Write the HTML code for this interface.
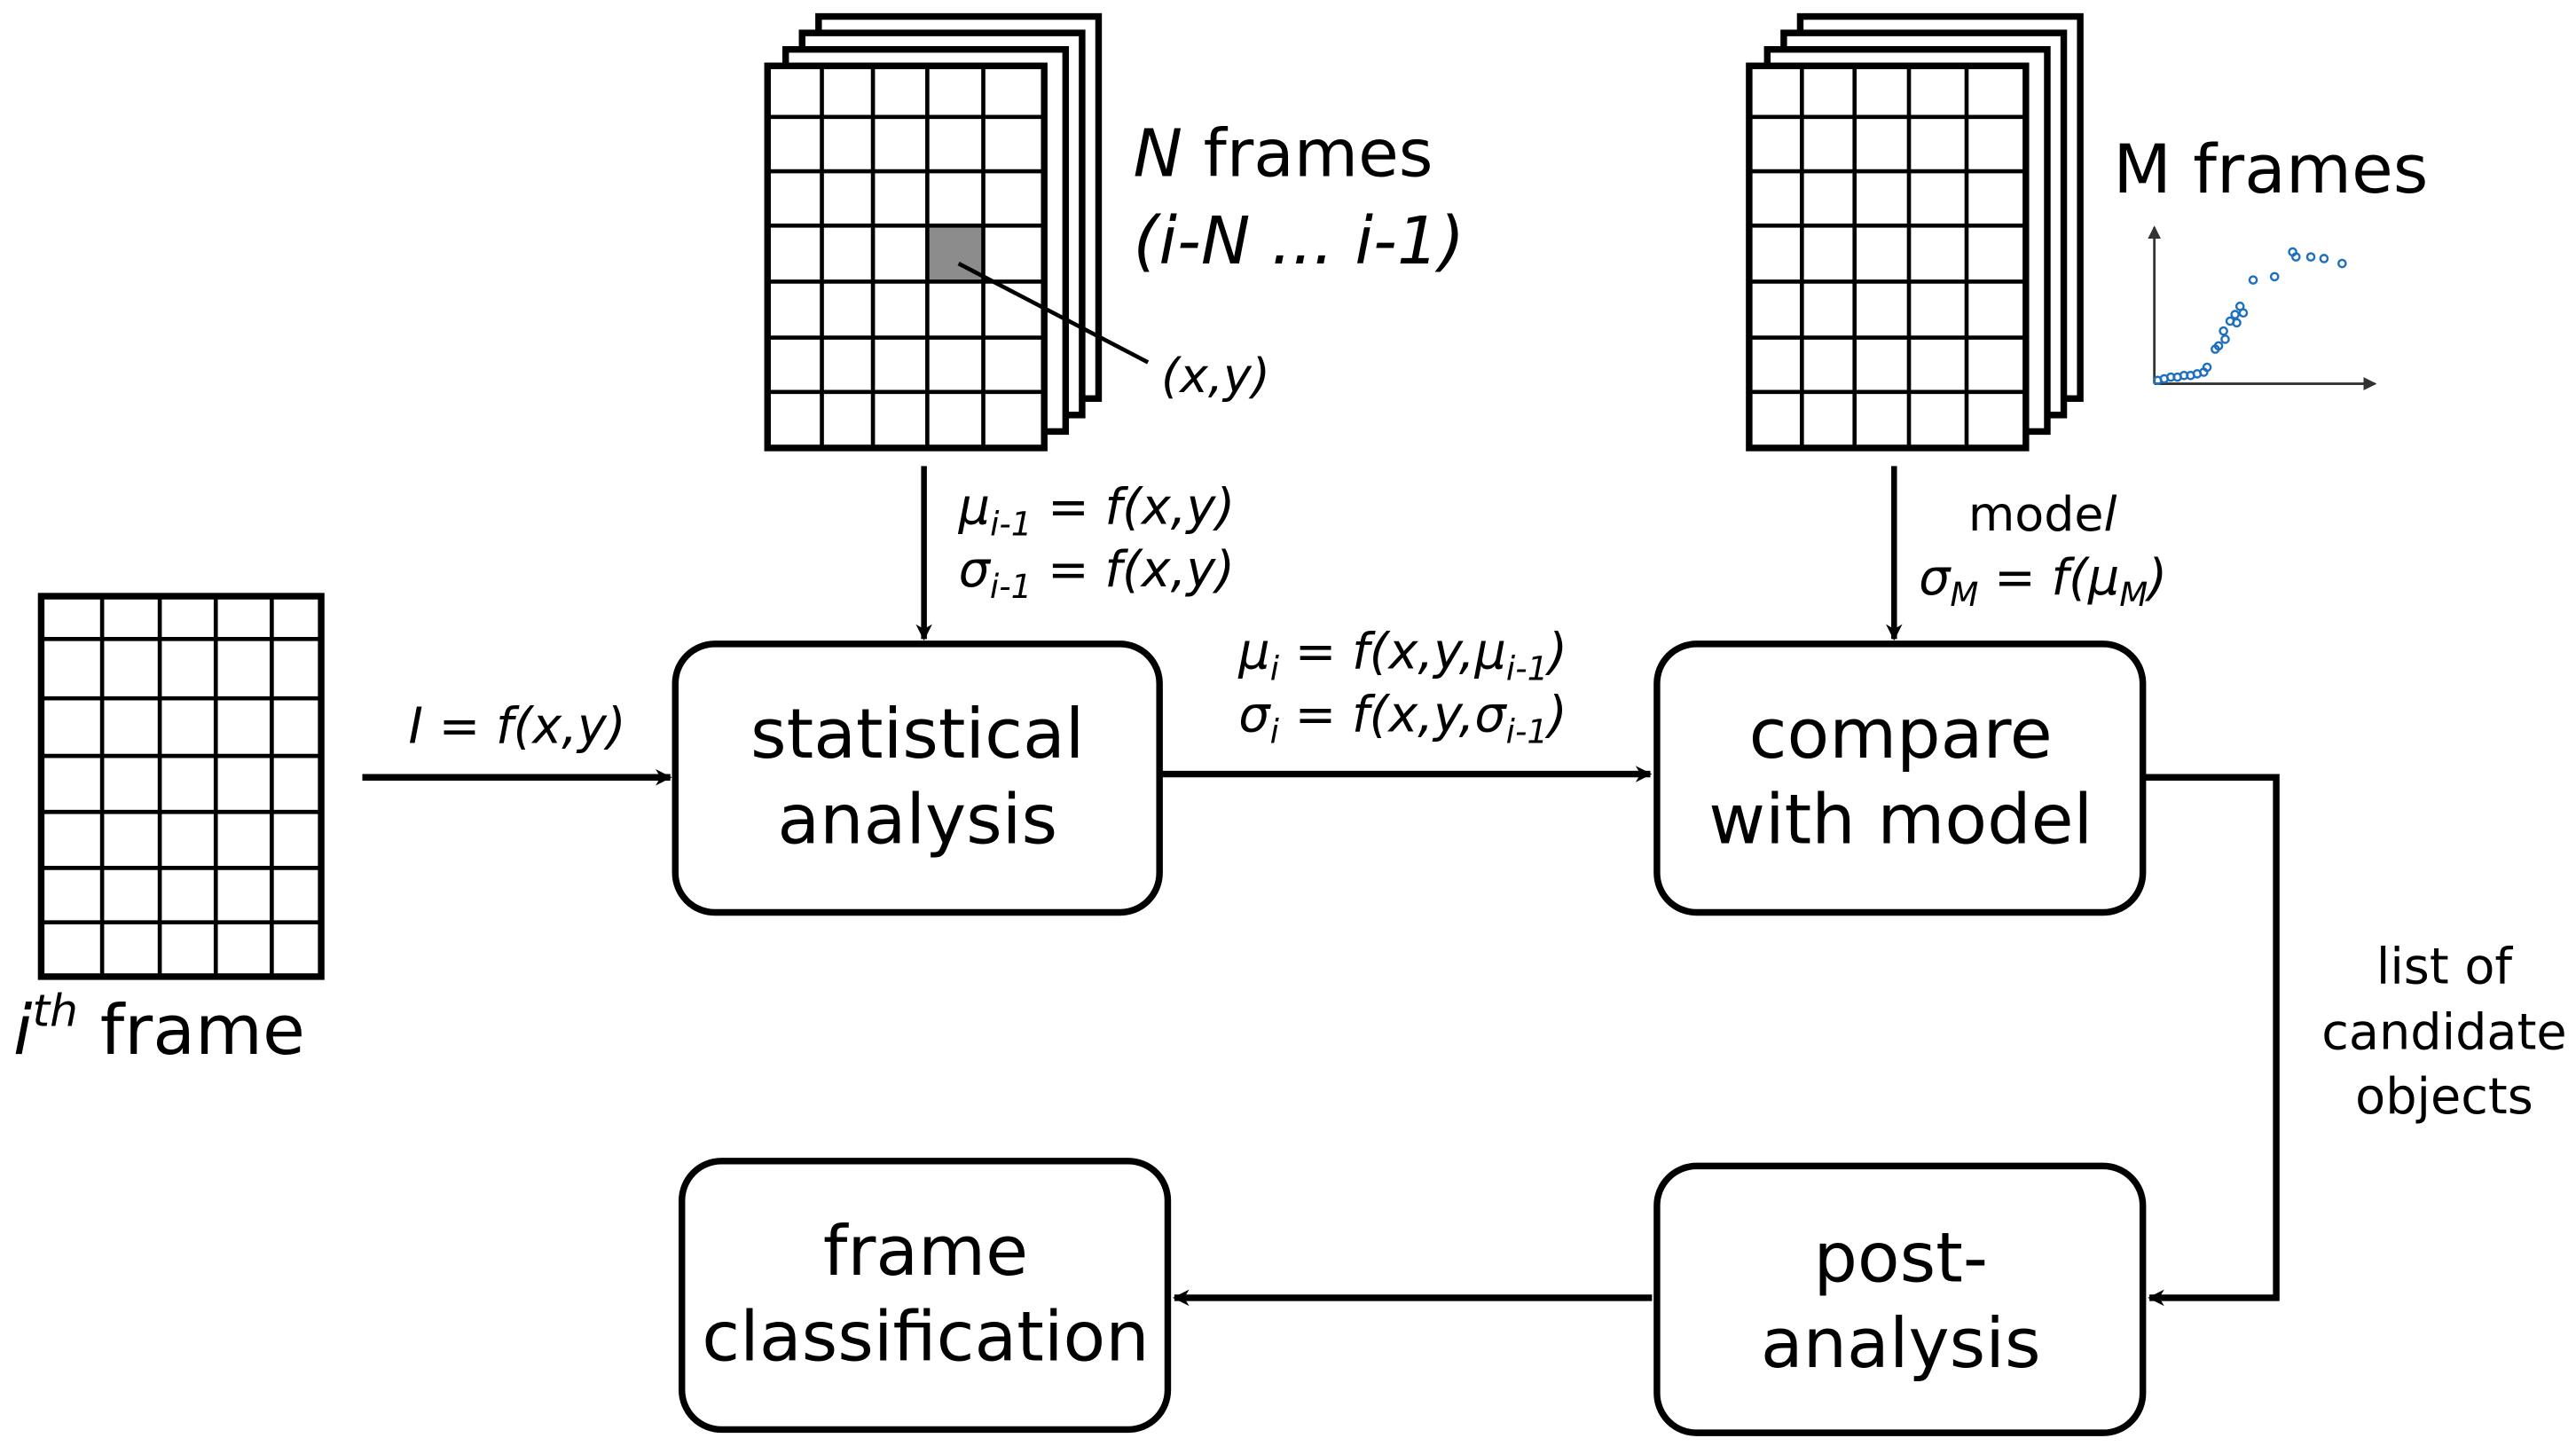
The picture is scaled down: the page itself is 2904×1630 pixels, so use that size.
<!DOCTYPE html>
<html><head><meta charset="utf-8"><style>
html,body{margin:0;padding:0;background:#fff}
svg{display:block}
text{font-family:"DejaVu Sans","Liberation Sans",sans-serif;fill:#000}
.it{font-style:italic}
</style></head><body>
<svg width="2904" height="1630" viewBox="0 0 1564 878" preserveAspectRatio="none" xmlns="http://www.w3.org/2000/svg">
<defs>
<marker id="ah" markerWidth="10" markerHeight="10" refX="9" refY="5" orient="auto" markerUnits="userSpaceOnUse">
<path d="M0,0 L10,5 L0,10 L3,5 z" fill="#000"/></marker>
<marker id="ah2" markerWidth="8" markerHeight="8" refX="7" refY="4" orient="auto" markerUnits="userSpaceOnUse">
<path d="M0,0 L8,4 L0,8 z" fill="#333"/></marker>
</defs>
<rect width="1564" height="878" fill="#fff"/>

<!-- N stack -->
<g fill="#fff" stroke="#000" stroke-width="4">
<rect x="497" y="10" width="170" height="232"/>
<rect x="487" y="20" width="170" height="232"/>
<rect x="477" y="30" width="170" height="232"/>
<rect x="466" y="40" width="168" height="232"/>
</g>
<rect x="563" y="137" width="34" height="34" fill="#8c8c8c"/>
<g stroke="#000" stroke-width="2.5">
<line x1="499" y1="40" x2="499" y2="272"/><line x1="530" y1="40" x2="530" y2="272"/><line x1="563" y1="40" x2="563" y2="272"/><line x1="597" y1="40" x2="597" y2="272"/>
<line x1="466" y1="71" x2="634" y2="71"/><line x1="466" y1="104" x2="634" y2="104"/><line x1="466" y1="137" x2="634" y2="137"/><line x1="466" y1="171" x2="634" y2="171"/><line x1="466" y1="205" x2="634" y2="205"/><line x1="466" y1="238" x2="634" y2="238"/>
<line x1="582" y1="160" x2="697" y2="220"/>
</g>
<text x="688" y="107" font-size="40"><tspan class="it">N</tspan> frames</text>
<text x="688" y="160" font-size="40" class="it">(i-N ... i-1)</text>
<text x="705" y="238" font-size="29" class="it">(x,y)</text>

<!-- M stack -->
<g fill="#fff" stroke="#000" stroke-width="4">
<rect x="1093" y="10" width="170" height="232"/>
<rect x="1083" y="20" width="170" height="232"/>
<rect x="1073" y="30" width="170" height="232"/>
<rect x="1062" y="40" width="168" height="232"/>
</g>
<g stroke="#000" stroke-width="2.5">
<line x1="1094" y1="40" x2="1094" y2="272"/><line x1="1126" y1="40" x2="1126" y2="272"/><line x1="1159" y1="40" x2="1159" y2="272"/><line x1="1194" y1="40" x2="1194" y2="272"/>
<line x1="1062" y1="71" x2="1230" y2="71"/><line x1="1062" y1="104" x2="1230" y2="104"/><line x1="1062" y1="137" x2="1230" y2="137"/><line x1="1062" y1="171" x2="1230" y2="171"/><line x1="1062" y1="205" x2="1230" y2="205"/><line x1="1062" y1="238" x2="1230" y2="238"/>
</g>
<text x="1283" y="117" font-size="41">M frames</text>
<!-- plot -->
<g stroke="#333" stroke-width="1.5">
<line x1="1308" y1="233" x2="1308" y2="138" marker-end="url(#ah2)"/>
<line x1="1308" y1="233" x2="1442" y2="233" marker-end="url(#ah2)"/>
</g>
<g fill="none" stroke="#1f6fbf" stroke-width="1.3">
<circle cx="1310" cy="231" r="2.2"/><circle cx="1314" cy="230" r="2.2"/><circle cx="1318" cy="229" r="2.2"/><circle cx="1322" cy="229" r="2.2"/><circle cx="1326" cy="228" r="2.2"/><circle cx="1330" cy="228" r="2.2"/><circle cx="1334" cy="227" r="2.2"/><circle cx="1338" cy="226" r="2.2"/><circle cx="1340" cy="223" r="2.2"/>
<circle cx="1345" cy="212" r="2.2"/><circle cx="1347" cy="210" r="2.2"/><circle cx="1350" cy="201" r="2.2"/><circle cx="1351" cy="206" r="2.2"/><circle cx="1354" cy="195" r="2.2"/><circle cx="1357" cy="191" r="2.2"/><circle cx="1358" cy="196" r="2.2"/><circle cx="1360" cy="186" r="2.2"/><circle cx="1362" cy="190" r="2.2"/>
<circle cx="1368" cy="170" r="2.2"/><circle cx="1381" cy="168" r="2.2"/><circle cx="1392" cy="153" r="2.2"/><circle cx="1394" cy="156" r="2.2"/><circle cx="1403" cy="156" r="2.2"/><circle cx="1411" cy="157" r="2.2"/><circle cx="1422" cy="160" r="2.2"/>
</g>

<!-- left frame -->
<rect x="25" y="362" width="170" height="231" fill="#fff" stroke="#000" stroke-width="4"/>
<g stroke="#000" stroke-width="2.5">
<line x1="62" y1="362" x2="62" y2="593"/><line x1="97" y1="362" x2="97" y2="593"/><line x1="131" y1="362" x2="131" y2="593"/><line x1="165" y1="362" x2="165" y2="593"/>
<line x1="25" y1="388" x2="195" y2="388"/><line x1="25" y1="424" x2="195" y2="424"/><line x1="25" y1="459" x2="195" y2="459"/><line x1="25" y1="493" x2="195" y2="493"/><line x1="25" y1="527" x2="195" y2="527"/><line x1="25" y1="560" x2="195" y2="560"/>
</g>
<text x="8" y="640" font-size="42"><tspan class="it">i</tspan><tspan class="it" font-size="27" dy="-17">th</tspan><tspan dy="17"> frame</tspan></text>

<!-- boxes -->
<g fill="#fff" stroke="#000" stroke-width="4">
<rect x="410" y="391" width="294" height="163" rx="24"/>
<rect x="1006" y="391" width="295" height="163" rx="24"/>
<rect x="1006" y="708" width="295" height="162" rx="24"/>
<rect x="414" y="705" width="295" height="163" rx="24"/>
</g>
<g font-size="42" text-anchor="middle">
<text x="557" y="460">statistical</text><text x="557" y="512">analysis</text>
<text x="1154" y="460">compare</text><text x="1154" y="512">with model</text>
<text x="1154" y="778">post-</text><text x="1154" y="830">analysis</text>
<text x="562" y="774">frame</text><text x="562" y="826">classification</text>
</g>

<!-- arrows -->
<g stroke="#000" stroke-width="4" fill="none">
<line x1="220" y1="472" x2="407" y2="472" marker-end="url(#ah)"/>
<line x1="705" y1="470" x2="1002" y2="470" marker-end="url(#ah)"/>
<line x1="561" y1="283" x2="561" y2="388" stroke-width="3.5" marker-end="url(#ah)"/>
<line x1="1150" y1="283" x2="1150" y2="388" stroke-width="3.5" marker-end="url(#ah)"/>
<polyline points="1302,472 1382,472 1382,788 1305,788" stroke-width="4" marker-end="url(#ah)"/>
<line x1="1003" y1="788" x2="713" y2="788" marker-end="url(#ah)"/>
</g>

<!-- labels -->
<g font-size="30" class="it">
<text x="248" y="451">I = f(x,y)</text>
<text x="582" y="318">μ<tspan font-size="20" dy="7">i-1</tspan><tspan dy="-7"> = f(x,y)</tspan></text>
<text x="582" y="356">σ<tspan font-size="20" dy="7">i-1</tspan><tspan dy="-7"> = f(x,y)</tspan></text>
<text x="752" y="406">μ<tspan font-size="20" dy="7">i</tspan><tspan dy="-7"> = f(x,y,μ</tspan><tspan font-size="20" dy="7">i-1</tspan><tspan dy="-7">)</tspan></text>
<text x="752" y="444">σ<tspan font-size="20" dy="7">i</tspan><tspan dy="-7"> = f(x,y,σ</tspan><tspan font-size="20" dy="7">i-1</tspan><tspan dy="-7">)</tspan></text>
<text x="1165" y="361">σ<tspan font-size="20" dy="7">M</tspan><tspan dy="-7"> = f(μ</tspan><tspan font-size="20" dy="7">M</tspan><tspan dy="-7">)</tspan></text>
</g>
<text x="1195" y="322" font-size="29">mode<tspan class="it">l</tspan></text>
<g font-size="30" text-anchor="middle">
<text x="1484" y="597">list of</text>
<text x="1484" y="637">candidate</text>
<text x="1484" y="676">objects</text>
</g>
</svg>
</body></html>
